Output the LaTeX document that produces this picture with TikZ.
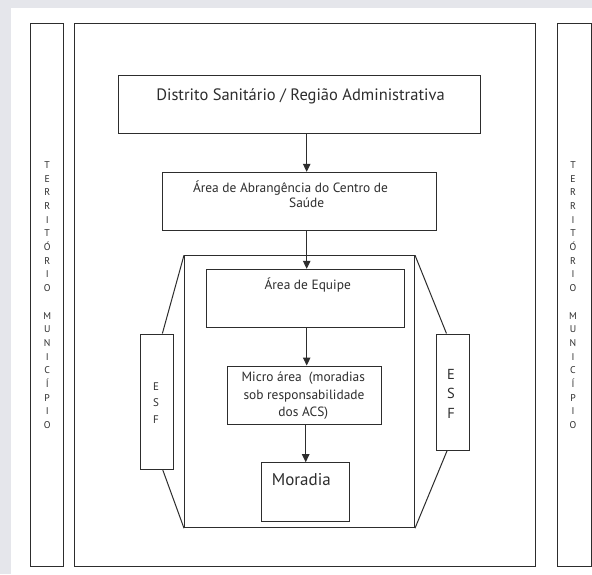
\documentclass[tikz,border=0pt]{standalone}
\usepackage{fontspec}
\setmainfont{PT Sans}
\usetikzlibrary{arrows.meta,calc}
\definecolor{pagegray}{RGB}{229,230,235}
\definecolor{ink}{RGB}{45,45,45}
\tikzset{
  box/.style={draw=ink, line width=1pt, rectangle, inner sep=0pt},
  arr/.style={draw=ink, line width=1pt, -{Triangle[length=8pt,width=7.5pt]}},
  link/.style={draw=ink, line width=1pt},
  lbl/.style={inner sep=0pt, anchor=base, text=ink},
  body/.style={lbl, font=\fontsize{13.4}{16}\selectfont},
}
\begin{document}
\begin{tikzpicture}[x=1pt,y=-1pt]
\useasboundingbox (0,0) rectangle (592,574);
\fill[pagegray] (0,0) rectangle (592,574);
\fill[white] (11,8) rectangle (592,574);

% territory strips and main frame
\node[box, minimum width=33pt, minimum height=542.3pt] (terrL) at (47.2,294.85) {};
\node[box, minimum width=460.7pt, minimum height=542.3pt] (frame) at (304.65,294.85) {};
\node[box, minimum width=34pt, minimum height=542.3pt] (terrR) at (574,294.85) {};

% hierarchy boxes
\node[box, minimum width=362pt, minimum height=58.3pt] (dist) at (299.3,104.15) {};
\node[box, minimum width=274.4pt, minimum height=58.4pt] (abr) at (299.5,201.5) {};
\node[box, minimum width=230pt, minimum height=272pt] (team) at (299.5,391.7) {};
\node[box, minimum width=198pt, minimum height=58pt] (equipe) at (305,298.3) {};
\node[box, minimum width=154pt, minimum height=58pt] (micro) at (304.7,395) {};
\node[box, minimum width=88pt, minimum height=58.6pt] (moradia) at (305,492) {};

% ESF boxes
\node[box, minimum width=32.6pt, minimum height=135.3pt] (esfL) at (157,401.65) {};
\node[box, minimum width=33.3pt, minimum height=116pt] (esfR) at (452.65,392) {};

% links from ESF boxes to the team area
\draw[link] ($(esfL.north west)!0.66!(esfL.north east)$) -- (team.north west);
\draw[link] ($(esfL.south west)!0.67!(esfL.south east)$) -- (team.south west);
\draw[link] ($(esfR.north west)!0.32!(esfR.north east)$) -- (team.north east);
\draw[link] ($(esfR.south west)!0.34!(esfR.south east)$) -- (team.south east);

% arrows down the hierarchy
\coordinate (axis) at (306.7,0);
\coordinate (axisb) at (305.7,0);
\draw[arr] (dist.south -| axis) -- (abr.north -| axis);
\draw[arr] (abr.south -| axis) -- (equipe.north -| axis);
\draw[arr] (equipe.south -| axis) -- (micro.north -| axis);
\draw[arr] (micro.south -| axisb) -- (moradia.north -| axisb);

% texts
\node[lbl, font=\fontsize{16.5}{19}\selectfont] (tdist) at (300.5,100.7) {Distrito Sanitário / Região Administrativa};
\node[body] (tabr1) at (290.5,192.3) {Área de Abrangência do Centro de};
\node[body] (tabr2) at (306.7,207.3) {Saúde};
\node[body] (tequipe) at (307.7,289.3) {Área de Equipe};
\node[body] (tmicro1) at (303.3,381.7) {Micro área\ \ (moradias};
\node[body] (tmicro2) at (304,399.3) {sob responsabilidade};
\node[body] (tmicro3) at (303.3,416.7) {dos ACS)};
\node[lbl, font=\fontsize{17}{20}\selectfont] (tmoradia) at (301.3,485.7) {Moradia};

% vertical letter stacks
\foreach \c [count=\i from 0] in {T,E,R,R,I,T,Ó,R,I,O,{},M,U,N,I,C,Í,P,I,O} {
  \node[lbl, font=\fontsize{9.8}{11}\selectfont] (tl\i) at (47.2,168.3+13.7*\i) {\c};
  \node[lbl, font=\fontsize{9.8}{11}\selectfont] (tr\i) at (573,168.3+13.7*\i) {\c};
}
\foreach \c [count=\i from 0] in {E,S,F} {
  \node[lbl, font=\fontsize{11}{12}\selectfont] (el\i) at (156,390+16.7*\i) {\c};
  \node[lbl, font=\fontsize{14.5}{16}\selectfont] (er\i) at (451,379.3+19.5*\i) {\c};
}
\end{tikzpicture}
\end{document}
